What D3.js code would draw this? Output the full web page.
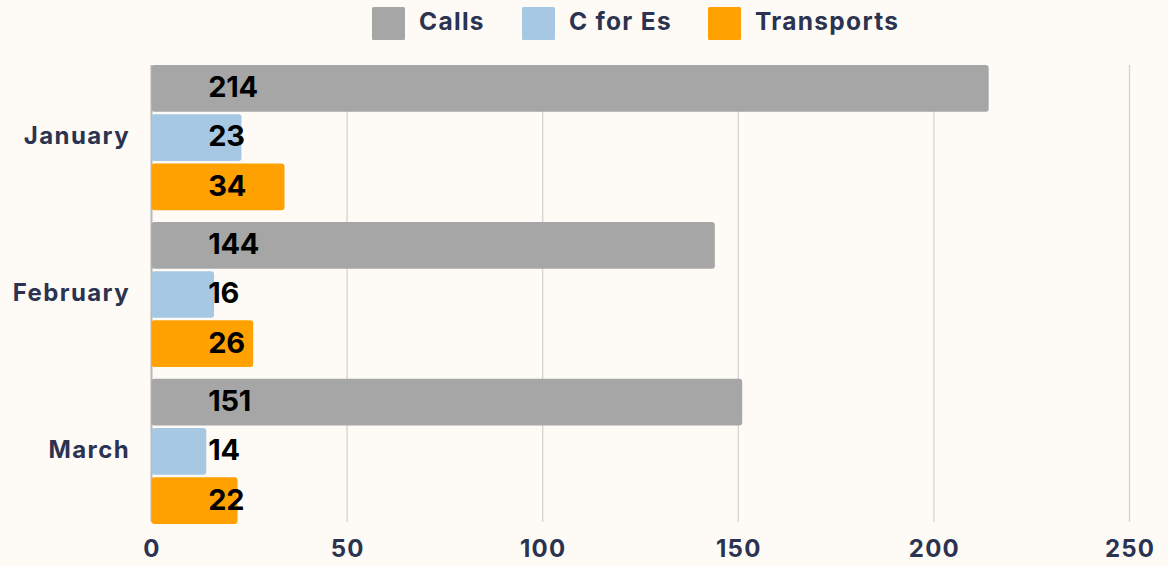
<!DOCTYPE html>
<html><head><meta charset="utf-8">
<script src="https://cdn.jsdelivr.net/npm/d3@7"></script>
<style>body{margin:0;background:#fefbf6;}svg{display:block;}</style>
</head><body>
<svg id="c" width="1168" height="566"></svg>
<script>
const categories = ["January", "February", "March"];
const seriesNames = ["Calls", "C for Es", "Transports"];
const calls = [214, 144, 151];
const cForEs = [23, 16, 14];
const transports = [34, 26, 22];
const xTicks = [0, 50, 100, 150, 200, 250];
const colors = ["#a6a6a6", "#a6c8e2", "#ffa100"];

const series = [calls, cForEs, transports];
const svg = d3.select("#c");
const W = 1168, H = 566;
svg.append("rect").attr("width", W).attr("height", H).attr("fill", "#fefbf6");

const x = d3.scaleLinear().domain([0, 250]).range([151.5, 1129.5]);
const y0 = d3.scaleBand().domain(categories).range([65, 524]).paddingInner(0.075).paddingOuter(0);
const y1 = d3.scaleBand().domain(seriesNames).range([0, y0.bandwidth()]).paddingInner(0.05);

const font2 = "Inter, 'Noto Sans', sans-serif";

// grid
svg.append("g").selectAll("line").data(xTicks).join("line")
  .attr("x1", d => x(d)).attr("x2", d => x(d))
  .attr("y1", 65).attr("y2", 522)
  .attr("stroke", d => d === 0 ? "#b8b8b8" : "#d6d3cf").attr("stroke-width", d => d === 0 ? 2 : 1.3);

// bars
const g = svg.append("g");
categories.forEach((cat, i) => {
  seriesNames.forEach((s, j) => {
    const v = series[j][i];
    g.append("rect")
      .attr("x", x(0)).attr("y", y0(cat) + y1(s))
      .attr("width", x(v) - x(0)).attr("height", y1.bandwidth())
      .attr("rx", 3).attr("fill", colors[j]);
  });
});
// labels
categories.forEach((cat, i) => {
  seriesNames.forEach((s, j) => {
    const v = series[j][i];
    svg.append("text")
      .attr("x", x(14.5)).attr("y", y0(cat) + y1(s) + y1.bandwidth() / 2 + 1)
      .attr("dominant-baseline", "middle")
      .attr("font-family", font2).attr("font-weight", 700).attr("font-size", 29)
      .attr("fill", "#000").attr("letter-spacing", -0.3)
      .text(v);
  });
});

// y axis labels
svg.append("g").selectAll("text").data(categories).join("text")
  .attr("x", 130).attr("y", d => y0(d) + y0.bandwidth() / 2)
  .attr("text-anchor", "end").attr("dominant-baseline", "middle")
  .attr("font-family", font2).attr("font-weight", 700).attr("font-size", 24)
  .attr("letter-spacing", 1.4)
  .attr("fill", "#2b3350").text(d => d);

// x axis
const xAxis = d3.axisBottom(x).tickValues(xTicks).tickSize(0).tickPadding(0);
const ax = svg.append("g").attr("transform", "translate(0,540)").call(xAxis);
ax.select(".domain").remove();
ax.selectAll("text").attr("font-family", font2).attr("font-weight", 700).attr("font-size", 24)
  .attr("letter-spacing", 1.2)
  .attr("fill", "#2b3350").attr("dy", "0.71em");

// legend
const legX = [372, 522, 708];
const leg = svg.append("g");
seriesNames.forEach((s, j) => {
  leg.append("rect").attr("x", legX[j]).attr("y", 7).attr("width", 33).attr("height", 33)
    .attr("rx", 1.5).attr("fill", colors[j]);
  leg.append("text").attr("x", legX[j] + 47).attr("y", 23.5).attr("dominant-baseline", "middle")
    .attr("font-family", font2).attr("font-weight", 700).attr("font-size", 24.5)
    .attr("letter-spacing", 1.3)
    .attr("fill", "#2b3350").text(s);
});
</script>
</body></html>
